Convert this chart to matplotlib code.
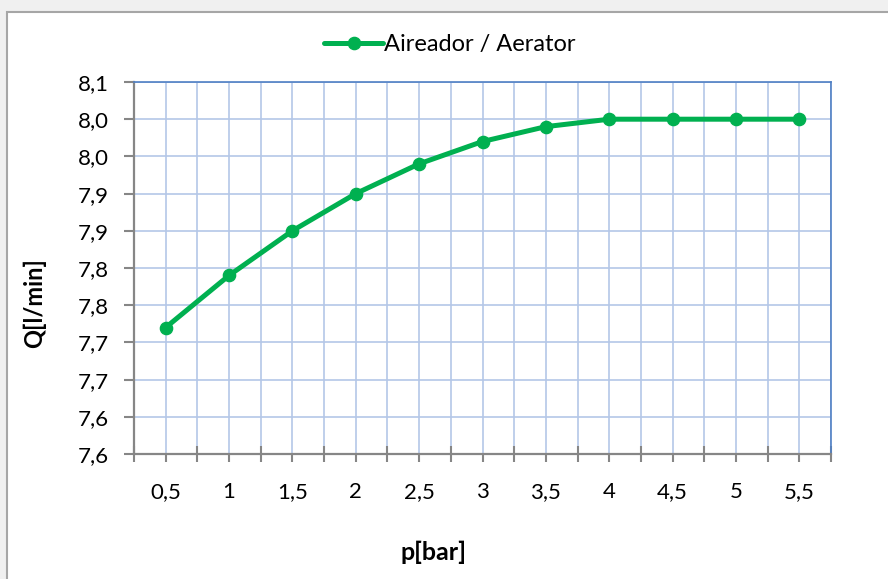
import matplotlib
matplotlib.use('Agg')
import matplotlib.pyplot as plt
from matplotlib.patches import Rectangle
import numpy as np

# data
pressure_labels = ['0,5', '1', '1,5', '2', '2,5', '3', '3,5', '4', '4,5', '5', '5,5']
flow = [7.77, 7.84, 7.90, 7.95, 7.99, 8.02, 8.04, 8.05, 8.05, 8.05, 8.05]
y_ticks = [7.60, 7.65, 7.70, 7.75, 7.80, 7.85, 7.90, 7.95, 8.00, 8.05, 8.10]
y_tick_labels = ['7,6', '7,6', '7,7', '7,7', '7,8', '7,8', '7,9', '7,9', '8,0', '8,0', '8,1']
series_name = 'Aireador / Aerator'

plt.rcParams['font.family'] = ['Lato', 'DejaVu Sans']

W, H = 888, 579
fig = plt.figure(figsize=(W / 100, H / 100), dpi=100, facecolor='#f0f0f0')

# white chart area with grey frame
fig.patches.append(Rectangle((7 / W, -0.1), 1.2, 1 - 12 / H + 0.1, transform=fig.transFigure,
                             facecolor='white', edgecolor='#a6a6a6', linewidth=1.5, zorder=-10))

ax = fig.add_axes([134 / W, 1 - 454 / H, (831 - 134) / W, (454 - 82) / H])
ax.set_zorder(2)
ax.set_facecolor('white')

x = np.arange(len(flow))
ax.plot(x, flow, color='#00b050', linewidth=3.6, marker='o', markersize=8.8,
        label=series_name, zorder=3, solid_capstyle='round')

ax.set_xlim(-0.5, len(flow) - 0.5)
ax.set_ylim(7.60, 8.10)

ax.set_xticks(np.arange(-0.5, len(flow), 1.0))
ax.set_xticklabels([])
ax.set_xticks(x, minor=True)
ax.set_xticklabels(pressure_labels, minor=True)
ax.set_yticks(y_ticks)
ax.set_yticklabels(y_tick_labels)

grid_col = '#b4c7e7'
ax.grid(True, which='both', axis='x', color=grid_col, linewidth=1.2, zorder=1)
ax.grid(True, which='major', axis='y', color=grid_col, linewidth=1.2, zorder=1)
ax.set_axisbelow(True)

ax.tick_params(axis='x', which='major', direction='inout', length=12, width=1.5, color='#868686')
ax.tick_params(axis='x', which='minor', direction='out', length=6, width=1.5, color='#868686',
               labelsize=16, pad=14)
ax.tick_params(axis='y', which='major', direction='out', length=7, width=1.5, color='#868686',
               labelsize=16, pad=11)

for side in ['left', 'bottom']:
    ax.spines[side].set_color('#868686')
    ax.spines[side].set_linewidth(1.6)
for side in ['top', 'right']:
    ax.spines[side].set_color('#4f7fc4')
    ax.spines[side].set_linewidth(1.2)

fig.text(434 / W, 1 - 552 / H, 'p[bar]', ha='center', va='center', fontsize=18, fontweight='bold')
fig.text(34 / W, 1 - 303 / H, 'Q[l/min]', ha='center', va='center', rotation=90,
         fontsize=17, fontweight='bold')

fig.legend(loc='center', bbox_to_anchor=(450 / W, 1 - 45 / H), frameon=False, fontsize=17,
           handlelength=2.5, handletextpad=0.05)

fig.savefig('out.png', dpi=100, facecolor=fig.get_facecolor())
